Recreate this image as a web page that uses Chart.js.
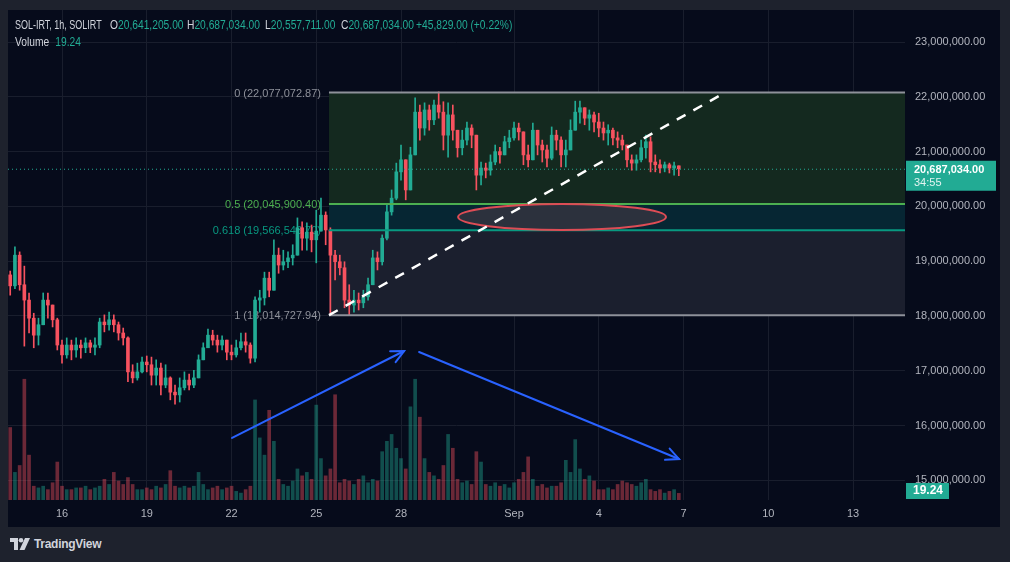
<!DOCTYPE html>
<html>
<head>
<meta charset="utf-8">
<script src="https://cdn.jsdelivr.net/npm/chart.js@4.4.0/dist/chart.umd.min.js"></script>
<style>
  body { margin: 0; background: #1e222d; width: 1010px; height: 562px; overflow: hidden;
         font-family: "Liberation Sans", Arial, sans-serif; }
  #panel { position: absolute; left: 8px; top: 10px; width: 992px; height: 517px; background: #060b1b; }
  #panel canvas { position: absolute; left: 0; top: 0; }
  .lg { position: absolute; font-size: 12.5px; line-height: 18px; color: #d1d4dc; white-space: nowrap;
        pointer-events: none; transform: scaleX(0.82); transform-origin: left center; }
  .g { color: #22ab94; }
  #logo { position: absolute; left: 10px; top: 537px; color: #d1d4dc; font-size: 12px; font-weight: bold; display: flex; align-items: center; gap: 4px; letter-spacing: -0.3px; }
</style>
</head>
<body>
<div id="panel">
  <canvas id="chart" width="992" height="517"></canvas>
  <div class="lg" style="left:7px;top:6px;transform:scaleX(0.72)">SOL-IRT, 1h, SOLIRT</div>
  <div class="lg" style="left:102px;top:6px">O<span class="g">20,641,205.00</span></div>
  <div class="lg" style="left:179px;top:6px">H<span class="g">20,687,034.00</span></div>
  <div class="lg" style="left:257px;top:6px">L<span class="g">20,557,711.00</span></div>
  <div class="lg" style="left:333px;top:6px">C<span class="g">20,687,034.00</span></div>
  <div class="lg g" style="left:408px;top:6px">+45,829.00 (+0.22%)</div>
  <div class="lg" style="left:7px;top:23px">Volume <span class="g" style="margin-left:4px">19.24</span></div>
</div>
<div id="logo">
  <svg width="20" height="12" viewBox="0 0 20 12"><path d="M0 0h8v12H4V4H0z" fill="#d1d4dc"/><circle cx="11" cy="2.3" r="2.3" fill="#d1d4dc"/><path d="M15 0h5l-5.5 12H9.5z" fill="#d1d4dc"/></svg>
  <span>TradingView</span>
</div>
<script>
// 4h candles, prices in millions IRT; first candle Aug 14 04:00
const firstCandleDay = -1 - 20 / 24;   // days from Aug 16 00:00
const candleStep = 4 / 24;
const firstOpen = 18.75;
const closes = [18.55,19.11,18.57,18.29,17.96,17.65,17.84,18.29,18.20,17.93,
  17.47,17.29,17.47,17.38,17.47,17.42,17.51,17.43,17.47,17.89,
  17.84,17.93,17.84,17.69,17.60,16.98,16.87,16.98,17.16,17.11,
  16.92,17.05,16.74,16.87,16.61,16.56,16.69,16.83,16.74,16.87,
  17.20,17.42,17.65,17.56,17.47,17.56,17.34,17.29,17.42,17.53,
  17.47,17.23,18.29,18.33,18.69,18.47,19.11,18.93,18.99,19.06,
  19.11,19.61,19.42,19.53,19.39,19.55,19.84,19.57,19.11,18.99,
  18.88,18.29,18.20,18.29,18.24,18.35,18.57,19.06,18.99,19.42,
  19.90,20.15,20.63,20.85,20.30,20.94,21.72,21.43,21.76,21.58,
  21.85,21.72,21.30,21.67,21.39,21.07,21.21,21.43,21.30,20.57,
  20.70,20.66,20.81,21.00,20.94,21.18,21.25,21.43,21.36,20.94,
  20.85,21.39,21.12,21.03,20.88,21.30,21.21,20.94,21.03,21.39,
  21.72,21.80,21.61,21.67,21.54,21.43,21.34,21.39,21.25,21.21,
  21.12,20.85,20.79,20.85,21.07,21.18,20.81,20.76,20.70,20.76,
  20.70,20.74,20.687];
const highs = [18.82,19.26,19.17,18.91,18.42,18.05,17.96,18.42,18.42,18.20,
  17.96,17.56,17.60,17.56,17.60,17.56,17.60,17.56,17.60,17.96,
  18.02,18.07,18.02,17.89,17.78,17.62,17.11,17.14,17.25,17.27,
  17.25,17.20,17.14,17.11,16.89,16.74,16.87,16.98,16.94,17.01,
  17.29,17.51,17.76,17.74,17.65,17.64,17.56,17.47,17.56,17.69,
  17.69,17.51,18.35,18.47,18.80,18.80,19.39,19.24,19.20,19.17,
  19.30,19.79,19.72,19.70,19.66,19.93,20.15,19.90,19.61,19.20,
  19.11,18.99,18.57,18.47,18.42,18.47,18.69,19.20,19.17,19.48,
  20.03,20.30,20.79,21.12,20.85,21.08,21.98,21.85,21.89,21.85,
  21.94,22.09,21.91,21.89,21.85,21.30,21.39,21.54,21.49,21.21,
  20.81,20.79,20.94,21.12,21.08,21.28,21.39,21.54,21.52,21.30,
  21.12,21.52,21.30,21.21,21.12,21.45,21.39,21.27,21.21,21.58,
  21.92,21.92,21.80,21.76,21.72,21.70,21.54,21.49,21.43,21.36,
  21.30,21.07,20.94,20.94,21.21,21.30,21.27,20.94,20.85,20.81,
  20.79,20.81,20.72];
const lows = [18.38,18.50,18.47,17.45,17.69,17.42,17.47,17.84,17.96,17.80,
  17.38,17.14,17.23,17.20,17.25,17.23,17.33,17.33,17.29,17.42,
  17.71,17.74,17.71,17.56,17.47,16.80,16.78,16.83,16.96,16.98,
  16.74,16.74,16.56,16.69,16.47,16.39,16.43,16.65,16.65,16.69,
  16.92,17.20,17.42,17.47,17.34,17.38,17.20,17.20,17.25,17.38,
  17.34,17.14,17.16,18.07,18.20,18.35,18.47,18.78,18.84,18.88,
  18.93,19.20,19.20,19.20,19.17,18.97,19.66,19.30,18.05,18.66,
  18.75,18.15,18.02,18.07,18.11,18.15,18.29,18.57,18.84,18.93,
  19.39,19.84,20.12,20.48,20.12,20.30,20.94,21.21,21.30,21.39,
  21.49,21.61,21.03,20.90,21.21,20.90,20.94,21.12,21.07,20.30,
  20.39,20.52,20.57,20.76,20.79,21.03,21.07,21.21,21.21,20.76,
  20.72,20.85,20.94,20.81,20.72,20.85,21.03,20.72,20.72,21.03,
  21.39,21.52,21.49,21.39,21.36,21.27,21.21,21.12,21.12,21.07,
  21.03,20.72,20.66,20.66,20.81,20.88,20.63,20.63,20.61,20.63,
  20.61,20.57,20.56];
const volumes = [210,80,100,350,130,40,35,40,30,50,
  110,40,30,30,35,35,40,30,35,40,
  60,45,80,55,45,65,45,30,30,35,
  30,40,35,45,85,40,35,40,35,40,
  80,45,30,35,40,30,35,40,25,20,
  30,40,290,180,130,260,170,60,45,40,
  55,90,70,80,60,275,120,70,90,305,
  50,60,55,45,60,70,50,60,55,140,
  170,190,150,120,90,270,350,240,120,80,
  70,60,100,190,150,60,50,55,45,140,
  110,45,40,50,40,45,35,50,60,80,
  125,60,40,45,35,40,40,50,115,80,
  175,90,60,70,55,30,30,35,30,45,
  55,50,45,40,50,60,30,25,30,20,
  25,30,19.24];

// axis ticks (days from Aug 16) and price ticks (millions)
const tickDays = [0, 3, 6, 9, 12, 16, 19, 22, 25, 28];
const tickLabels = ['16', '19', '22', '25', '28', 'Sep', '4', '7', '10', '13'];
const priceTicks = [15, 16, 17, 18, 19, 20, 21, 22, 23];

// drawings on the chart (days / millions)
const fibHigh = 22.07707287, fibLow = 18.01472794;
const fibLevels = [0, 0.5, 0.618, 1];
const fibTexts = ['0 (22,077,072.87)', '0.5 (20,045,900.40)', '0.618 (19,566,543.70)', '1 (18,014,727.94)'];
const fibColors = ['#8e919a', '#4caf50', '#089981', '#8e919a'];
const fibBands = ['#14291f', '#062633', '#1b1f2e'];
const fibStartDay = 9.45, fibEndDay = 23.47;
const ellipse = { day: 17.70, price: 19.807, rDays: 3.68, rPrice: 0.237 };
const arrows = [[6.02, 15.774, 12.11, 17.361], [12.64, 17.343, 21.84, 15.39]];
const lastPrice = 20.687034;

const UP = '#22ab94', DOWN = '#f7525f';
const FONT = '"Liberation Sans", Arial, sans-serif';
const opens = closes.map((c, i) => i === 0 ? firstOpen : closes[i - 1]);
const days = closes.map((c, i) => firstCandleDay + i * candleStep);
const isUp = closes.map((c, i) => c >= opens[i]);

const fmt = v => Math.round(v * 1e6).toLocaleString('en-US') + '.00';

const drawings = {
  id: 'drawings',
  beforeDatasetsDraw(chart) {
    const { ctx, chartArea: a, scales: { x, y } } = chart;
    const lv = fibLevels.map(l => y.getPixelForValue(fibHigh - l * (fibHigh - fibLow)));
    const x0 = x.getPixelForValue(fibStartDay);
    ctx.save();
    ctx.beginPath(); ctx.rect(a.left, a.top, a.width, a.height); ctx.clip();
    for (let i = 0; i < fibBands.length; i++) {
      ctx.fillStyle = fibBands[i];
      ctx.fillRect(x0, lv[i], a.right - x0, lv[i + 1] - lv[i]);
    }
    ctx.font = '11px ' + FONT;
    ctx.textAlign = 'right'; ctx.textBaseline = 'middle';
    fibTexts.forEach((t, i) => { ctx.fillStyle = fibColors[i]; ctx.fillText(t, x0 - 8, lv[i] + 1); });
    ctx.restore();
  },
  afterDatasetsDraw(chart) {
    const { ctx, chartArea: a, scales: { x, y } } = chart;
    const lv = fibLevels.map(l => y.getPixelForValue(fibHigh - l * (fibHigh - fibLow)));
    const x0 = x.getPixelForValue(fibStartDay);
    ctx.save();
    ctx.beginPath(); ctx.rect(a.left, a.top, a.width, a.height); ctx.clip();
    // fib lines
    ctx.lineWidth = 2;
    lv.forEach((py, i) => {
      ctx.strokeStyle = fibColors[i];
      ctx.beginPath(); ctx.moveTo(x0, py); ctx.lineTo(a.right, py); ctx.stroke();
    });
    // last price dotted line
    const py = y.getPixelForValue(lastPrice);
    ctx.strokeStyle = UP; ctx.lineWidth = 1; ctx.setLineDash([1, 3]);
    ctx.beginPath(); ctx.moveTo(a.left, py + 0.5); ctx.lineTo(a.right, py + 0.5); ctx.stroke();
    ctx.setLineDash([]);
    // ellipse
    const ex = x.getPixelForValue(ellipse.day), ey = y.getPixelForValue(ellipse.price);
    const rx = x.getPixelForValue(ellipse.day + ellipse.rDays) - ex;
    const ry = ey - y.getPixelForValue(ellipse.price + ellipse.rPrice);
    ctx.beginPath(); ctx.ellipse(ex, ey, rx, ry, 0, 0, Math.PI * 2);
    ctx.fillStyle = 'rgba(48,50,62,0.92)'; ctx.fill();
    ctx.strokeStyle = '#de4c55'; ctx.lineWidth = 2; ctx.stroke();
    // dashed trend line between fib anchors
    ctx.strokeStyle = '#ffffff'; ctx.lineWidth = 2.5; ctx.setLineDash([10, 9]);
    ctx.beginPath();
    ctx.moveTo(x0, lv[3]);
    ctx.lineTo(x.getPixelForValue(fibEndDay), lv[0]);
    ctx.stroke();
    ctx.setLineDash([]);
    // arrows
    ctx.strokeStyle = '#2962ff'; ctx.lineWidth = 2; ctx.lineCap = 'round';
    arrows.forEach(([d1, p1, d2, p2]) => {
      const ax = x.getPixelForValue(d1), ay = y.getPixelForValue(p1);
      const bx = x.getPixelForValue(d2), by = y.getPixelForValue(p2);
      const ang = Math.atan2(by - ay, bx - ax);
      ctx.beginPath(); ctx.moveTo(ax, ay); ctx.lineTo(bx, by); ctx.stroke();
      ctx.beginPath();
      ctx.moveTo(bx - 14 * Math.cos(ang - 0.45), by - 14 * Math.sin(ang - 0.45));
      ctx.lineTo(bx, by);
      ctx.lineTo(bx - 14 * Math.cos(ang + 0.45), by - 14 * Math.sin(ang + 0.45));
      ctx.stroke();
    });
    ctx.restore();
  },
  afterDraw(chart) {
    const { ctx, chartArea: a, scales: { y } } = chart;
    const py = y.getPixelForValue(lastPrice);
    ctx.save();
    ctx.fillStyle = UP;
    ctx.fillRect(a.right + 1, py - 8, 90, 30);
    ctx.fillRect(a.right + 1, a.bottom - 17, 43, 16);
    ctx.font = 'bold 11px ' + FONT;
    ctx.textAlign = 'left'; ctx.textBaseline = 'middle';
    ctx.fillStyle = '#ffffff';
    ctx.fillText(fmt(lastPrice), a.right + 9, py + 1);
    ctx.font = 'bold 12px ' + FONT;
    ctx.fillText('19.24', a.right + 8, a.bottom - 9);
    ctx.font = '11px ' + FONT;
    ctx.fillStyle = '#e3f4f1';
    ctx.fillText('34:55', a.right + 9, py + 14);
    ctx.restore();
  }
};

const gridColor = '#191e2d';
const tickFont = { family: FONT, size: 11 };

new Chart(document.getElementById('chart'), {
  type: 'bar',
  data: {
    datasets: [
      {
        label: 'body',
        data: days.map((d, i) => ({ x: d, y: [opens[i], closes[i]] })),
        backgroundColor: isUp.map(u => u ? UP : DOWN),
        barThickness: 3, minBarLength: 1, grouped: false, yAxisID: 'y', order: 1
      },
      {
        label: 'wick',
        data: days.map((d, i) => ({ x: d, y: [Math.min(lows[i], opens[i], closes[i]), Math.max(highs[i], opens[i], closes[i])] })),
        backgroundColor: isUp.map(u => u ? UP : DOWN),
        barThickness: 1, grouped: false, yAxisID: 'y', order: 2
      },
      {
        label: 'Volume',
        data: days.map((d, i) => ({ x: d, y: volumes[i] })),
        backgroundColor: isUp.map(u => u ? 'rgba(34,171,148,0.42)' : 'rgba(247,82,95,0.42)'),
        barThickness: 3, grouped: false, yAxisID: 'v', order: 3
      }
    ]
  },
  options: {
    responsive: false,
    animation: false,
    devicePixelRatio: 1,
    layout: { padding: 0 },
    plugins: { legend: { display: false }, tooltip: { enabled: false } },
    scales: {
      x: {
        type: 'linear', min: -1.912, max: 29.84, position: 'bottom', offset: false,
        afterBuildTicks: s => { s.ticks = tickDays.map(v => ({ value: v })); },
        afterFit: s => { s.height = 27; s.paddingLeft = 0; s.paddingRight = 0; },
        grid: { color: gridColor, drawTicks: false, offset: false },
        border: { display: false },
        ticks: { color: '#b2b5be', font: tickFont, padding: 7, maxRotation: 0, autoSkip: false,
                 callback: v => tickLabels[tickDays.indexOf(v)] }
      },
      y: {
        position: 'right', min: 14.642, max: 23.584,
        afterBuildTicks: s => { s.ticks = priceTicks.map(v => ({ value: v })); },
        afterFit: s => { s.width = 95; s.paddingTop = 0; s.paddingBottom = 0; },
        grid: { color: gridColor, drawTicks: false },
        border: { display: false },
        ticks: { color: '#b2b5be', font: tickFont, padding: 10, callback: v => fmt(v) }
      },
      v: { display: false, min: 0, max: 1420 }
    }
  },
  plugins: [drawings]
});
</script>
</body>
</html>
